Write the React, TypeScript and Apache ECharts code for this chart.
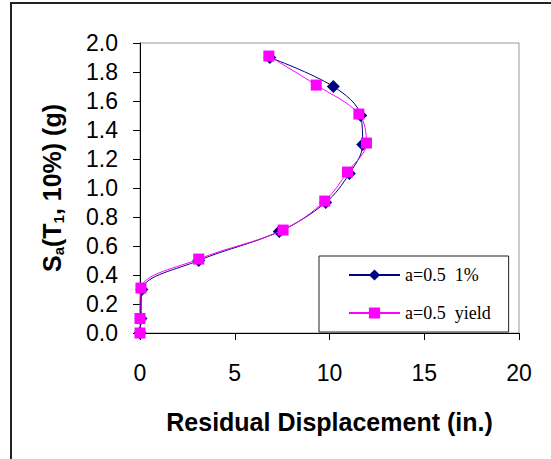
import React, { useEffect, useRef } from "react";
import * as echarts from "echarts";

const sa = [0, 0.1, 0.3, 0.5, 0.7, 0.9, 1.1, 1.3, 1.5, 1.7, 1.9];
const disp1 = [0, 0.05, 0.1, 3.1, 7.35, 9.8, 11.05, 11.75, 11.65, 10.2, 6.85];
const sa2 = [0, 0.1, 0.31, 0.51, 0.71, 0.91, 1.11, 1.31, 1.51, 1.71, 1.91];
const disp2 = [0, 0, 0.05, 3.1, 7.55, 9.75, 10.95, 11.95, 11.55, 9.3, 6.8];
const seriesNames = ["a=0.5  1%", "a=0.5  yield"];
const xTicks = [0, 5, 10, 15, 20];

export default function App() {
  const ref = useRef<HTMLDivElement>(null);
  useEffect(() => {
    if (!ref.current) return;
    const chart = echarts.init(ref.current, null, { renderer: "svg" });
    const sans = "'Liberation Sans', Arial, sans-serif";
    chart.setOption({
      animation: false,
      backgroundColor: "#ffffff",
      grid: {
        left: 140,
        right: 32,
        top: 43,
        bottom: 126,
        show: true,
        borderColor: "#999999",
        borderWidth: 1,
        backgroundColor: "#ffffff",
      },
      graphic: [
        {
          type: "rect",
          shape: { x: 11, y: 3, width: 560, height: 480 },
          style: { fill: "none", stroke: "#222222", lineWidth: 2 },
          silent: true,
        },
      ],
      legend: {
        orient: "vertical",
        left: 319,
        top: 256,
        width: 186,
        borderColor: "#222222",
        borderWidth: 1,
        backgroundColor: "#ffffff",
        padding: [10, 18, 10, 29],
        itemWidth: 51,
        itemHeight: 14,
        itemGap: 20,
        itemStyle: { borderWidth: 0 },
        textStyle: {
          fontFamily: "'Liberation Serif', 'Times New Roman', serif",
          fontSize: 18,
          color: "#000",
        },
        data: seriesNames,
      },
      xAxis: {
        type: "value",
        min: 0,
        max: 20,
        interval: 5,
        name: "Residual Displacement (in.)",
        nameLocation: "middle",
        nameGap: 76,
        nameTextStyle: { fontFamily: sans, fontSize: 25, fontWeight: "bold", color: "#000" },
        axisLine: { show: true, lineStyle: { color: "#000", width: 1 } },
        axisTick: { show: true, length: 7, lineStyle: { color: "#000" } },
        axisLabel: {
          margin: 28,
          fontFamily: sans,
          fontSize: 23,
          color: "#000",
          customValues: xTicks,
        },
        splitLine: { show: false },
      },
      yAxis: {
        type: "value",
        min: 0,
        max: 2,
        interval: 0.2,
        name: "{b|S}{s|a}{b|(T}{s|1}{b|, 10%) (g)}",
        nameLocation: "middle",
        nameRotate: 90,
        nameGap: 74,
        nameTextStyle: {
          rich: {
            b: { fontFamily: sans, fontSize: 25, fontWeight: "bold", color: "#000", lineHeight: 28 },
            s: {
              fontFamily: sans,
              fontSize: 15,
              fontWeight: "bold",
              color: "#000",
              lineHeight: 15,
              verticalAlign: "bottom",
            },
          },
        },
        axisLine: { show: true, lineStyle: { color: "#000", width: 1 } },
        axisTick: { show: true, length: 7, lineStyle: { color: "#000" } },
        axisLabel: {
          margin: 22,
          fontFamily: sans,
          fontSize: 23,
          color: "#000",
          formatter: (v: number) => v.toFixed(1),
        },
        splitLine: { show: false },
      },
      series: [
        {
          name: seriesNames[0],
          type: "line",
          smooth: 0.35,
          data: disp1.map((x, i) => [x, sa[i]]),
          symbol: "diamond",
          symbolSize: 13,
          lineStyle: { color: "#000080", width: 1 },
          itemStyle: { color: "#000080" },
          z: 2,
        },
        {
          name: seriesNames[1],
          type: "line",
          smooth: 0.35,
          data: disp2.map((x, i) => [x, sa2[i]]),
          symbol: "rect",
          symbolSize: 11,
          lineStyle: { color: "#FF00FF", width: 1 },
          itemStyle: { color: "#FF00FF" },
          z: 3,
        },
      ],
    });
    return () => chart.dispose();
  }, []);
  return (
    <div
      ref={ref}
      style={{ position: "fixed", left: 0, top: 0, width: 551, height: 459 }}
    />
  );
}
